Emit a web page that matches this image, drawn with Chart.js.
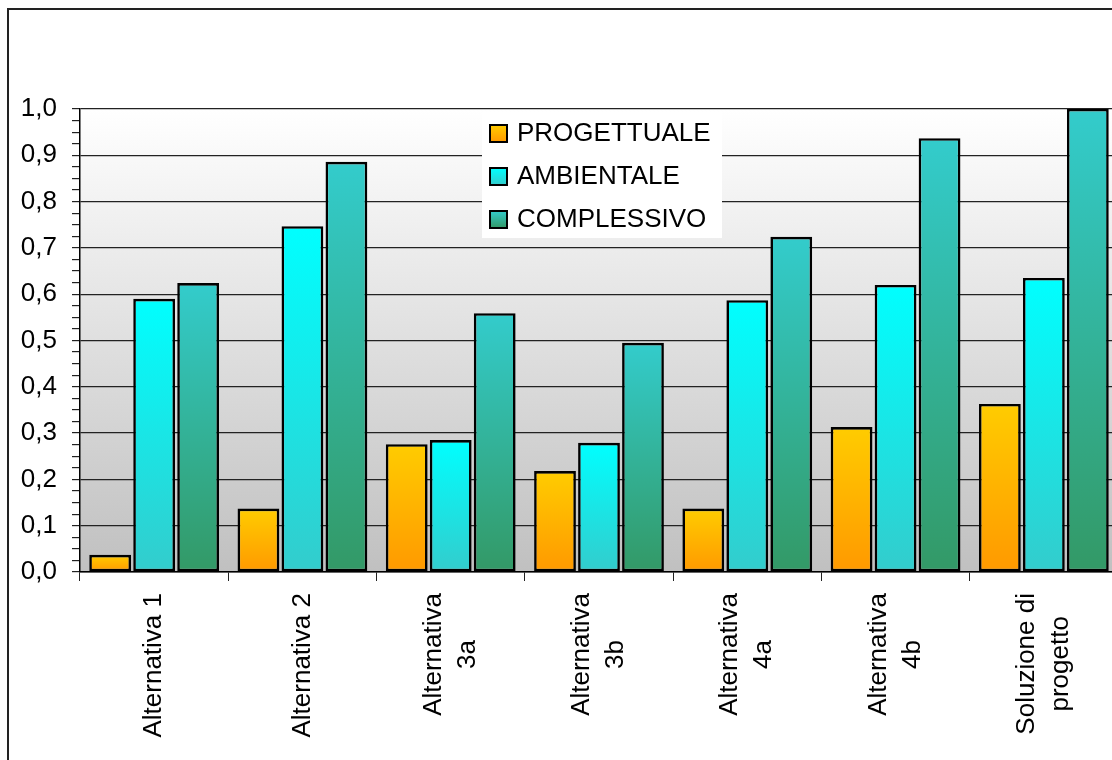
<!DOCTYPE html>
<html lang="it">
<head>
<meta charset="utf-8">
<title>Confronto alternative</title>
<style>
  html, body { margin: 0; padding: 0; background: #fff; overflow: hidden; }
  #frame { position: absolute; left: 7px; top: 8px; width: 1130px; height: 780px; border: 2px solid #222; }
  canvas { display: block; }
</style>
</head>
<body>
<div id="frame"><canvas id="chart" width="1130" height="780"></canvas></div>

<script src="https://cdn.jsdelivr.net/npm/chart.js@4.4.1/dist/chart.umd.min.js"></script>
<script>
// categorie e punteggi normalizzati
const categories = [
  ['Alternativa 1'],
  ['Alternativa 2'],
  ['Alternativa', '3a'],
  ['Alternativa', '3b'],
  ['Alternativa', '4a'],
  ['Alternativa', '4b'],
  ['Soluzione di', 'progetto']
];
const seriesNames = ['PROGETTUALE', 'AMBIENTALE', 'COMPLESSIVO'];
const progettuale = [0.037, 0.137, 0.276, 0.218, 0.137, 0.313, 0.363];
const ambientale  = [0.590, 0.747, 0.285, 0.279, 0.587, 0.620, 0.635];
const complessivo = [0.624, 0.886, 0.559, 0.495, 0.724, 0.937, 1.000];
const yMin = 0, yMax = 1, yMajor = 0.1, yMinor = 0.025;

// colori sfumati (alto, basso) per ogni serie
const fills = [
  ['#FFCC00', '#FF9900'],
  ['#00FFFF', '#33CCCC'],
  ['#33CCCC', '#339966']
];
const FONT = '"Liberation Sans", Arial, sans-serif';

function barFill(top, bottom) {
  return function(ctx) {
    const chart = ctx.chart;
    if (!chart.chartArea || ctx.type !== 'data') return bottom;
    const y = chart.scales.y;
    const y0 = y.getPixelForValue(ctx.raw);
    const y1 = y.getPixelForValue(0);
    if (!isFinite(y0) || y0 === y1) return bottom;
    const g = chart.ctx.createLinearGradient(0, y0, 0, y1);
    g.addColorStop(0, top);
    g.addColorStop(1, bottom);
    return g;
  };
}

function isMajor(v) {
  return Math.abs(v / yMajor - Math.round(v / yMajor)) < 1e-6;
}

// sfondo dell'area del grafico: bianco in alto, grigio in basso
const plotBackground = {
  id: 'plotBackground',
  beforeDraw(chart) {
    const { ctx, chartArea: a } = chart;
    const g = ctx.createLinearGradient(0, a.top, 0, a.bottom);
    g.addColorStop(0, '#FFFFFF');
    g.addColorStop(1, '#C0C0C0');
    ctx.save();
    ctx.fillStyle = g;
    ctx.fillRect(a.left, a.top, a.right - a.left, a.bottom - a.top);
    ctx.restore();
  }
};

// etichette verticali su più righe, centrate sulla categoria
const xLabels = {
  id: 'xLabels',
  afterDraw(chart) {
    const { ctx } = chart;
    const xs = chart.scales.x;
    const lh = 34;
    ctx.save();
    ctx.fillStyle = '#000';
    ctx.font = '26px ' + FONT;
    ctx.textAlign = 'center';
    ctx.textBaseline = 'middle';
    categories.forEach((lines, i) => {
      const longest = Math.max(...lines.map(t => ctx.measureText(t).width));
      ctx.save();
      ctx.translate(xs.getPixelForTick(i), xs.top + 21);
      ctx.rotate(-Math.PI / 2);
      lines.forEach((t, j) => ctx.fillText(t, -longest / 2, (j - (lines.length - 1) / 2) * lh));
      ctx.restore();
    });
    ctx.restore();
  }
};

// legenda su fondo bianco dentro l'area del grafico
const legendBox = {
  id: 'legendBox',
  afterDraw(chart) {
    const { ctx, chartArea: a } = chart;
    const x = a.left + 402, y = a.top + 3, w = 240, h = 126;
    ctx.save();
    ctx.fillStyle = '#fff';
    ctx.fillRect(x, y, w, h);
    chart.data.datasets.forEach((ds, i) => {
      const cy = y + 21 + i * 43;
      const g = ctx.createLinearGradient(0, cy - 8, 0, cy + 9);
      g.addColorStop(0, fills[i][0]);
      g.addColorStop(1, fills[i][1]);
      ctx.fillStyle = g;
      ctx.fillRect(x + 8, cy - 8, 17, 17);
      ctx.strokeStyle = '#000';
      ctx.lineWidth = 2;
      ctx.strokeRect(x + 8, cy - 8, 17, 17);
      ctx.fillStyle = '#000';
      ctx.font = '26px ' + FONT;
      ctx.textBaseline = 'middle';
      ctx.fillText(ds.label, x + 35, cy + 1);
    });
    ctx.restore();
  }
};

const values = [progettuale, ambientale, complessivo];

new Chart(document.getElementById('chart'), {
  type: 'bar',
  data: {
    labels: categories,
    datasets: seriesNames.map((name, i) => ({
      label: name,
      data: values[i],
      backgroundColor: barFill(fills[i][0], fills[i][1]),
      borderColor: '#000',
      borderWidth: 2.6,
      borderSkipped: false,
      categoryPercentage: 0.89,
      barPercentage: 0.95
    }))
  },
  options: {
    responsive: false,
    animation: false,
    layout: { padding: { top: 99, right: 21, left: 0, bottom: 0 } },
    plugins: {
      legend: { display: false },
      tooltip: { enabled: false }
    },
    scales: {
      x: {
        afterFit: s => { s.height = 218; },
        border: { display: true, color: '#000', width: 1.5 },
        grid: { display: true, drawOnChartArea: false, drawTicks: true, tickLength: 9, color: '#222', offset: true },
        ticks: { display: false }
      },
      y: {
        min: yMin,
        max: yMax,
        afterFit: s => { s.width = 71; },
        border: { display: true, color: '#000', width: 1.5 },
        grid: {
          color: c => (c.tick && isMajor(c.tick.value)) ? '#222' : 'rgba(0,0,0,0)',
          tickColor: '#222',
          lineWidth: 1.2,
          tickLength: 8
        },
        ticks: {
          stepSize: yMinor,
          autoSkip: false,
          padding: 15,
          color: '#000',
          font: { family: FONT, size: 26 },
          callback: v => isMajor(v) ? v.toFixed(1).replace('.', ',') : ''
        }
      }
    }
  },
  plugins: [plotBackground, xLabels, legendBox]
});
</script>
</body>
</html>
